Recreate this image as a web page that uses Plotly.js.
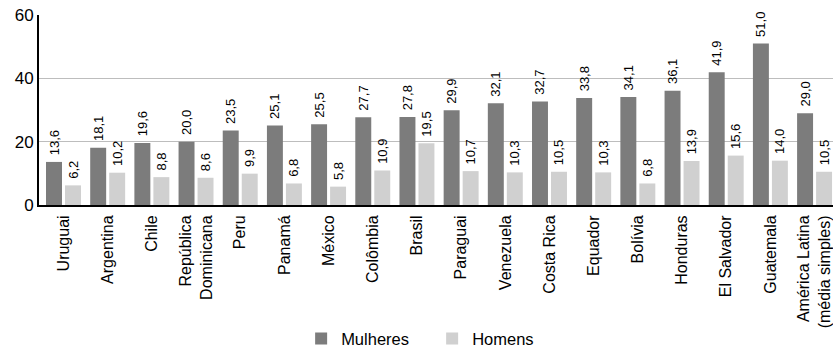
<!DOCTYPE html>
<html>
<head>
<meta charset="utf-8">
<script src="https://cdn.plot.ly/plotly-3.0.1.min.js"></script>
<style>html,body{margin:0;padding:0;background:#fff;}#chart{width:833px;height:350px;}</style>
</head>
<body>
<div id="chart"></div>
<script>
const categories = ["Uruguai","Argentina","Chile","República<br>Dominicana","Peru","Panamá","México","Colômbia","Brasil","Paraguai","Venezuela","Costa Rica","Equador","Bolívia","Honduras","El Salvador","Guatemala","América Latina<br>(média simples)"];
const mulheres = [13.6,18.1,19.6,20.0,23.5,25.1,25.5,27.7,27.8,29.9,32.1,32.7,33.8,34.1,36.1,41.9,51.0,29.0];
const homens = [6.2,10.2,8.8,8.6,9.9,6.8,5.8,10.9,19.5,10.7,10.3,10.5,10.3,6.8,13.9,15.6,14.0,10.5];
const seriesNames = ["Mulheres","Homens"];
const yTicks = [0,20,40,60];

const FONT = "'Liberation Sans', Arial, Helvetica, sans-serif";
const idx = categories.map((c,i)=>i);

function barTrace(name, vals, color){
  return {
    type:'bar', name:name, x:idx, y:vals,
    marker:{color:color, line:{width:0}},
    texttemplate:'\u00a0%{y:.1f}',
    textposition:'outside', textangle:-90,
    textfont:{family:FONT, size:13, color:'#000'},
    constraintext:'none', cliponaxis:false,
    hoverinfo:'skip'
  };
}

const data = [
  barTrace(seriesNames[0], mulheres, '#7c7c7c'),
  barTrace(seriesNames[1], homens, '#d0d0d0')
];

const layout = {
  width:833, height:350,
  margin:{l:39, r:0, t:15, b:145, pad:0},
  paper_bgcolor:'#fff', plot_bgcolor:'#fff',
  font:{family:FONT, color:'#000'},
  separators:',.',
  barmode:'group', bargap:0.14, bargroupgap:0.16,
  showlegend:true,
  legend:{orientation:'h', xref:'container', yref:'container',
    x:0.3615, xanchor:'left', y:0.032, yanchor:'middle',
    entrywidth:86, entrywidthmode:'pixels',
    font:{family:FONT, size:16.5, color:'#000'}, itemclick:false, traceorder:'normal'},
  xaxis:{
    tickmode:'array', tickvals:idx, ticktext:categories,
    range:[-0.5545, 17.417], tickangle:-90,
    tickfont:{family:FONT, size:16, color:'#000'},
    ticklabelstandoff:2, ticklabeloverflow:'allow',
    showline:true, linecolor:'#000', linewidth:2,
    showgrid:false, zeroline:false, ticks:'', fixedrange:true
  },
  yaxis:{
    range:[0,60], tickvals:yTicks,
    tickfont:{family:FONT, size:17, color:'#000'},
    showline:true, linecolor:'#000', linewidth:2,
    showgrid:true, gridcolor:'#bdbdbd', gridwidth:1.5,
    zeroline:false, ticks:'', fixedrange:true
  }
};

Plotly.newPlot('chart', data, layout, {displayModeBar:false, staticPlot:true});
</script>
</body>
</html>
